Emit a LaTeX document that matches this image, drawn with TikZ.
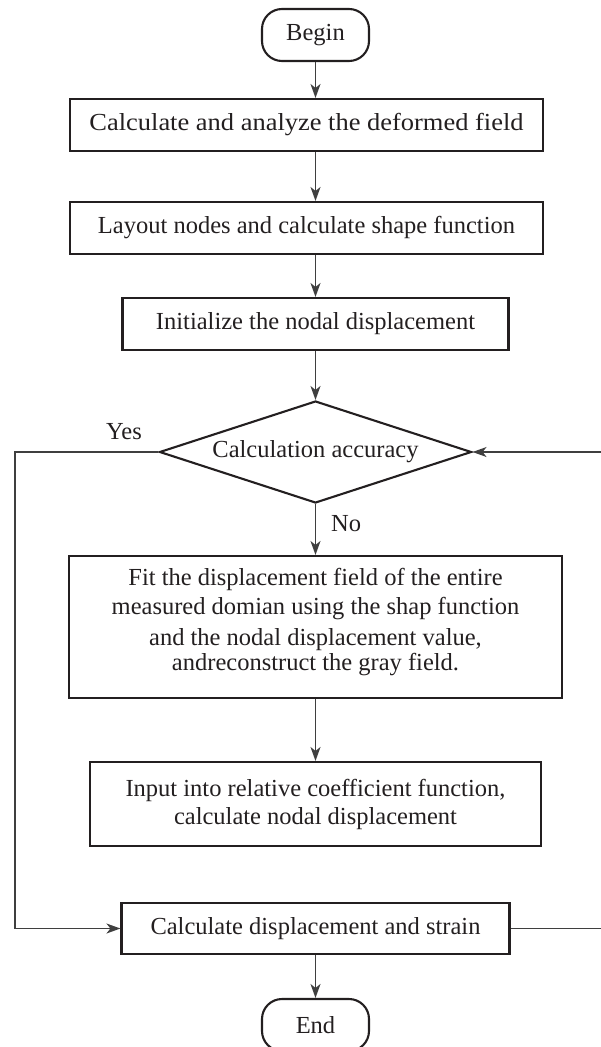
\documentclass[tikz,border=0pt]{standalone}
\usepackage{fontspec}
\usepackage{graphicx}
\setmainfont{Liberation Serif}
\usetikzlibrary{arrows.meta,shapes.geometric,calc}
\definecolor{ink}{HTML}{231F20}
\definecolor{wire}{HTML}{3F3F3F}
\begin{document}
\begin{tikzpicture}[x=1pt,y=-1pt,
  every node/.style={font=\fontsize{24.5}{28}\selectfont, text=ink},
  procbox/.style={draw=ink, line width=2.1pt, rectangle, inner sep=0pt, align=center},
  termbox/.style={draw=ink, line width=2.1pt, rectangle, rounded corners=20pt, inner sep=0pt, minimum width=107pt, minimum height=52pt},
  decbox/.style={draw=ink, line width=2.1pt, diamond, aspect=3.06, inner sep=0pt, minimum width=312pt, minimum height=102pt},
  flow/.style={draw=wire, line width=1.4pt, -{Stealth[length=14pt,width=10pt,inset=4pt]}},
  lbl/.style={inner sep=0pt},
  txt/.style={inner sep=0pt, align=center}
]
\useasboundingbox (0,0) rectangle (600,1047);

\node[termbox] (begin) at (315.5,35) {Begin};
\node[procbox, minimum width=473pt, minimum height=52pt] (b1) at (306.5,125) {\scalebox{1.08}[1]{Calculate and analyze the deformed field}};
\node[procbox, minimum width=473pt, minimum height=52pt] (b2) at (306.5,228) {Layout nodes and calculate shape function};
\node[procbox, minimum width=386pt, minimum height=52pt] (b3) at (315.5,324) {Initialize the nodal displacement};
\node[decbox] (dec) at (315.5,452) {Calculation accuracy};
\node[procbox, minimum width=493pt, minimum height=142pt] (b4) at (315.5,627) {};
\node[txt, font=\fontsize{24.5}{29}\selectfont] (b4t) at (315.5,622) {Fit the displacement field of the entire\\ measured domian using the shap function\\[2pt] and the nodal displacement value,\\[-4pt] andreconstruct the gray field.};
\node[procbox, minimum width=451pt, minimum height=84pt] (b5) at (315.5,804) {Input into relative coefficient function,\\ calculate nodal displacement};
\node[procbox, minimum width=388pt, minimum height=51pt] (b6) at (315.5,928.5) {Calculate displacement and strain};
\node[termbox] (end) at (315.5,1025) {End};

\node[lbl] (yes) at (124,432) {Yes};
\node[lbl, anchor=west] (no) at (331,524) {No};

\coordinate (lx) at (15,0);
\coordinate (rx) at (603,0);

\draw[flow] (begin.south) -- (begin.south |- b1.north);
\draw[flow] (begin.south |- b1.south) -- (begin.south |- b2.north);
\draw[flow] (begin.south |- b2.south) -- (b3.north);
\draw[flow] (b3.south) -- (dec.north);
\draw[flow] (dec.south) -- (b4.north);
\draw[flow] (b4.south) -- (b5.north);
\draw[flow] (b6.south) -- (end.north);
\draw[flow] (dec.west) -- (dec.west -| lx) |- (b6.west);
\draw[flow] (b6.east) -- (b6.east -| rx) |- (dec.east);
\end{tikzpicture}
\end{document}
